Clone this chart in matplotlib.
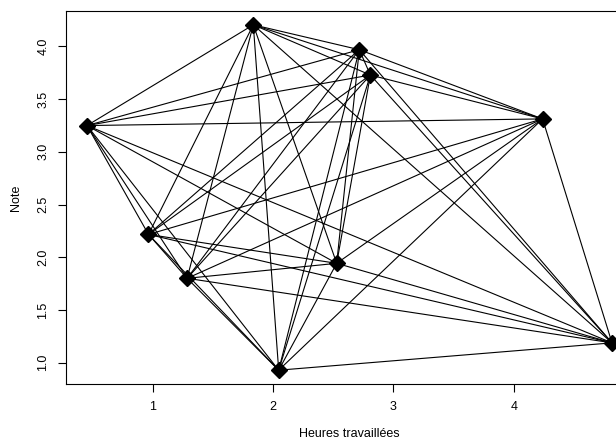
import itertools
import matplotlib
matplotlib.use("Agg")
import matplotlib.pyplot as plt

# données
heures = [0.453, 0.964, 1.285, 1.835, 2.046, 2.528, 2.716, 2.808, 4.239, 4.816]
notes = [3.249, 2.217, 1.801, 4.204, 0.930, 1.943, 3.968, 3.728, 3.312, 1.189]
xticks = [1, 2, 3, 4]
yticks = [1.0, 1.5, 2.0, 2.5, 3.0, 3.5, 4.0]

plt.rcParams['font.family'] = ['Liberation Sans', 'DejaVu Sans']

fig = plt.figure(figsize=(6.16, 4.40), dpi=100)
W, H = 616, 440
# the plot box runs past the right edge of the image, like the reference
ax = fig.add_axes([66 / W, (H - 384) / H, (633 - 66) / W, (384 - 11) / H])

# relier chaque paire de points
for i, j in itertools.combinations(range(len(heures)), 2):
    ax.plot([heures[i], heures[j]], [notes[i], notes[j]], color='black', lw=0.8)

ax.plot(heures, notes, linestyle='none', marker='D', markersize=8,
        color='black', zorder=3)

# limites façon R (4 % de marge)
xr = max(heures) - min(heures)
yr = max(notes) - min(notes)
ax.set_xlim(min(heures) - 0.04 * xr, max(heures) + 0.04 * xr)
ax.set_ylim(min(notes) - 0.04 * yr, max(notes) + 0.04 * yr)

ax.set_xticks(xticks)
ax.set_xticklabels([str(t) for t in xticks])
ax.set_yticks(yticks)
ax.set_yticklabels([f"{t:.1f}" for t in yticks], rotation=90, va='center')
ax.tick_params(direction='out', length=6, width=0.8, labelsize=9, pad=6)

for s in ax.spines.values():
    s.set_linewidth(0.8)

ax.set_xlabel('Heures travaillées', fontsize=9, labelpad=11)
ax.set_ylabel('Note', fontsize=9, labelpad=11)

fig.savefig('out.png', dpi=100)
